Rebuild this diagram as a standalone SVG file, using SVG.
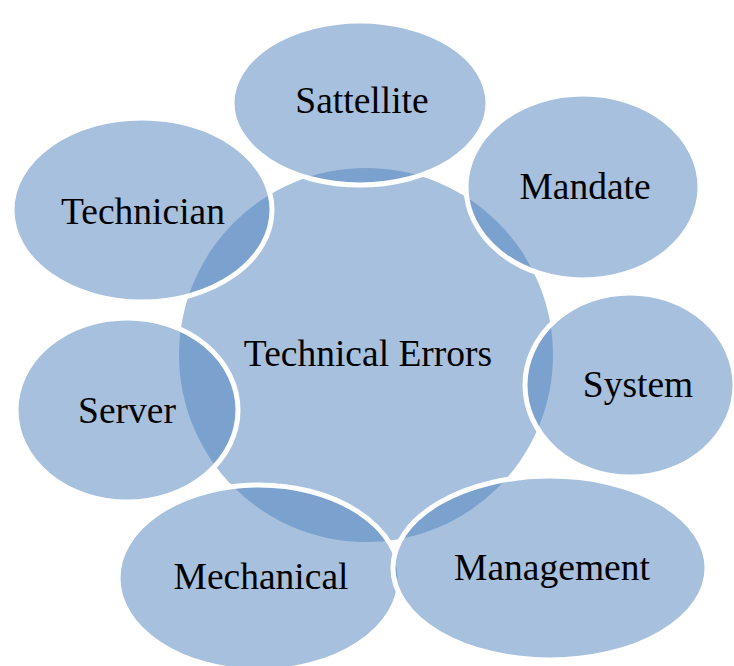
<svg xmlns="http://www.w3.org/2000/svg" width="734" height="666" viewBox="0 0 734 666">
<style>
.c{fill:#4F81BD;fill-opacity:0.5;stroke:none}
.o{fill:#4F81BD;fill-opacity:0.5;stroke:#ffffff;stroke-width:5}
.t{font-size:37.5px;fill:#000;text-anchor:middle}
</style>
<rect width="734" height="666" fill="#ffffff"/>
<g id="connectors"></g>
<g id="center"><circle class="c" cx="366" cy="355" r="187"/></g>
<g id="sattellite"><ellipse class="o" cx="360" cy="103" rx="128" ry="82"/></g>
<g id="mandate"><ellipse class="o" cx="583" cy="187" rx="117" ry="93"/></g>
<g id="system"><ellipse class="o" cx="630" cy="385" rx="105" ry="92"/></g>
<g id="mechanical"><ellipse class="o" cx="259" cy="578" rx="141" ry="93"/></g>
<g id="management"><ellipse class="o" cx="550" cy="568" rx="157" ry="92"/></g>
<g id="server"><ellipse class="o" cx="127" cy="410" rx="111" ry="92"/></g>
<g id="technician"><ellipse class="o" cx="142" cy="210" rx="130" ry="92"/></g>
<g id="labels" font-family="'Liberation Serif', 'Times New Roman', serif">
<text class="t" x="368" y="366">Technical Errors</text>
<text class="t" x="362" y="113">Sattellite</text>
<text class="t" x="585" y="199">Mandate</text>
<text class="t" x="638" y="397">System</text>
<text class="t" x="552" y="580">Management</text>
<text class="t" x="261" y="589">Mechanical</text>
<text class="t" x="127" y="423">Server</text>
<text class="t" x="143" y="224">Technician</text>
</g>
</svg>
